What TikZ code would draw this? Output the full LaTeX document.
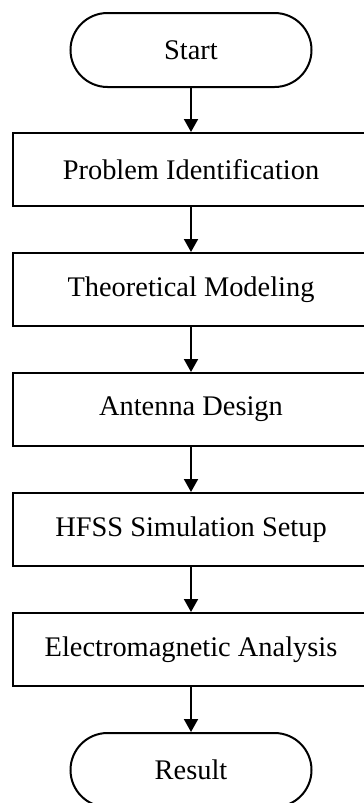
\documentclass[tikz,border=0pt]{standalone}
\usepackage{fontspec}
\setmainfont{Liberation Serif}
\usetikzlibrary{arrows.meta}
\begin{document}
\begin{tikzpicture}[x=1pt,y=-1pt,
  every node/.style={font=\fontsize{28.4}{32}\selectfont, inner sep=0pt, line width=2pt, draw=black},
  term/.style={minimum width=241pt, minimum height=74pt, rounded corners=37pt},
  proc/.style={minimum width=356pt, minimum height=73pt},
  conn/.style={line width=2pt, -{Triangle[width=14pt,length=13pt]}}]
\useasboundingbox (0,0) rectangle (364,803);
\node[term] (start) at (191,50) {Start};
\node[proc] (p1) at (191,169.5) {Problem Identification};
\node[proc] (p2) at (191,289.5) {Theoretical Modeling};
\node[proc] (p3) at (191,409.5) {Antenna Design};
\node[proc] (p4) at (191,529.5) {HFSS Simulation Setup};
\node[proc] (p5) at (191,649.5) {Electromagnetic Analysis};
\node[term] (res) at (191,770) {Result};
\draw[conn] (start) -- (p1);
\draw[conn] (p1) -- (p2);
\draw[conn] (p2) -- (p3);
\draw[conn] (p3) -- (p4);
\draw[conn] (p4) -- (p5);
\draw[conn] (p5) -- (res);
\end{tikzpicture}
\end{document}
